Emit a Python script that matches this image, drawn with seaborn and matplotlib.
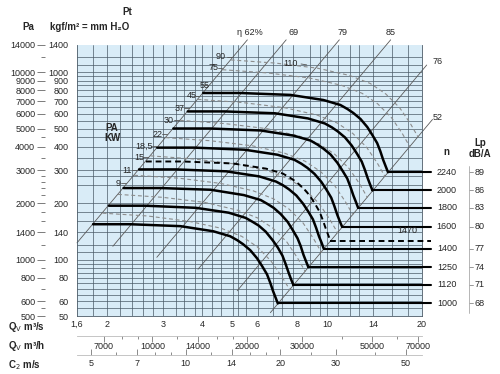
import matplotlib
matplotlib.use("Agg")
import matplotlib.pyplot as plt
import matplotlib.transforms as mtransforms
from matplotlib.ticker import NullFormatter, NullLocator
import seaborn as sns

# fan curves: Qv (m3/s) vs Pt (mm H2O), one per speed n
q_2240 = [4.03, 5.29, 7.64, 9.72, 11.00, 11.58, 12.10, 12.75, 13.40, 13.91, 14.40, 14.74, 15.05, 15.34, 15.59]
p_2240 = [775, 775, 757, 711, 669, 637, 606, 563, 510, 462, 419, 379, 341, 314, 293]
q_2000 = [3.60, 4.72, 6.82, 8.68, 9.82, 10.34, 10.80, 11.38, 11.96, 12.42, 12.86, 13.16, 13.44, 13.70, 13.92]
p_2000 = [618, 618, 604, 567, 533, 508, 483, 449, 406, 368, 334, 302, 272, 250, 234]
q_1800 = [3.24, 4.25, 6.14, 7.81, 8.84, 9.31, 9.72, 10.24, 10.76, 11.18, 11.57, 11.84, 12.10, 12.33, 12.53]
p_1800 = [501, 501, 489, 459, 432, 411, 391, 364, 329, 298, 271, 245, 220, 203, 189]
q_1600 = [2.88, 3.78, 5.46, 6.94, 7.86, 8.27, 8.64, 9.10, 9.57, 9.94, 10.29, 10.53, 10.75, 10.96, 11.14]
p_1600 = [396, 396, 386, 363, 341, 325, 309, 287, 260, 236, 214, 193, 174, 160, 150]
q_1470 = [2.65, 3.47, 5.01, 6.38, 7.22, 7.60, 7.94, 8.36, 8.79, 9.13, 9.45, 9.67, 9.88, 10.07, 10.23]
p_1470 = [334, 334, 326, 306, 288, 274, 261, 242, 220, 199, 180, 163, 147, 135, 126]
q_1400 = [2.52, 3.30, 4.77, 6.08, 6.87, 7.24, 7.56, 7.97, 8.37, 8.69, 9.00, 9.21, 9.41, 9.59, 9.74]
p_1400 = [303, 303, 296, 278, 261, 249, 237, 220, 199, 181, 164, 148, 133, 123, 114.5]
q_1250 = [2.25, 2.95, 4.26, 5.43, 6.14, 6.46, 6.75, 7.11, 7.48, 7.76, 8.04, 8.23, 8.40, 8.56, 8.70]
p_1250 = [241, 241, 236, 221, 208, 198, 189, 175, 159, 144, 130, 118, 106, 97.8, 91.3]
q_1120 = [2.02, 2.64, 3.82, 4.86, 5.50, 5.79, 6.05, 6.37, 6.70, 6.96, 7.20, 7.37, 7.53, 7.67, 7.80]
p_1120 = [194, 194, 189, 178, 167, 159, 152, 141, 127, 116, 105, 94.7, 85.3, 78.5, 73.3]
q_1000 = [1.80, 2.36, 3.41, 4.34, 4.91, 5.17, 5.40, 5.69, 5.98, 6.21, 6.43, 6.58, 6.72, 6.85, 6.96]
p_1000 = [154.5, 154.5, 150.9, 141.7, 133.3, 127.0, 120.8, 112.2, 101.6, 92.1, 83.5, 75.5, 68.0, 62.6, 58.4]

solid_curves = [(q_2240, p_2240), (q_2000, p_2000), (q_1800, p_1800), (q_1600, p_1600),
                (q_1400, p_1400), (q_1250, p_1250), (q_1120, p_1120), (q_1000, p_1000)]
speed_labels = ["2240", "2000", "1800", "1600", "1400", "1250", "1120", "1000"]
lp_labels = ["89", "86", "83", "80", "77", "74", "71", "68"]

# thin grey dashed curves
qd_a = [4.93, 6.85, 9.32, 11.78, 13.70, 15.34, 16.99, 18.36, 19.45]
pd_a = [1164, 1119, 1051, 961, 871, 766, 646, 533, 450]
qd_b = [4.64, 6.45, 8.77, 11.09, 12.90, 14.45, 16.00, 17.29, 18.32]
pd_b = [1032, 992, 932, 852, 772, 679, 572, 473, 399]
qd_c = [3.87, 5.38, 7.31, 9.25, 10.75, 12.04, 13.33, 14.41, 15.27]
pd_c = [717, 689, 647, 592, 536, 472, 398, 328, 277]
qd_d = [3.40, 4.73, 6.43, 8.13, 9.45, 10.58, 11.72, 12.66, 13.42]
pd_d = [554, 532, 500, 457, 414, 364, 307, 254, 214]
qd_e = [3.06, 4.25, 5.78, 7.31, 8.50, 9.52, 10.54, 11.39, 12.07]
pd_e = [448, 431, 405, 370, 335, 295, 249, 205, 173]
qd_f = [2.74, 3.80, 5.17, 6.54, 7.60, 8.51, 9.42, 10.18, 10.79]
pd_f = [358, 344, 323, 296, 268, 236, 199, 164, 139]
qd_g = [2.43, 3.38, 4.59, 5.81, 6.75, 7.56, 8.37, 9.05, 9.59]
pd_g = [282, 272, 255, 233, 211, 186, 157, 129, 109]
qd_h = [2.16, 3.00, 4.08, 5.16, 6.00, 6.72, 7.44, 8.04, 8.52]
pd_h = [223, 215, 202, 184, 167, 147, 124, 102, 86]
qd_i = [1.93, 2.68, 3.64, 4.60, 5.35, 5.99, 6.63, 7.17, 7.60]
pd_i = [177, 171, 160, 147, 133, 117, 98, 81, 69]
dashed_curves = [(qd_a, pd_a), (qd_b, pd_b), (qd_c, pd_c), (qd_d, pd_d), (qd_e, pd_e),
                 (qd_f, pd_f), (qd_g, pd_g), (qd_h, pd_h), (qd_i, pd_i)]

# efficiency lines (end points, Qv / Pt)
eta_q = [(1.6, 5.57), (2.08, 7.40), (2.87, 10.92), (3.88, 15.9), (5.17, 20.7), (6.59, 21.6)]
eta_p = [(122.9, 1490), (117.8, 1490), (102.9, 1490), (88.8, 1490), (68.2, 1093), (52.1, 560)]
eta_labels = ["\u03b7 62%", "69", "79", "85", "76", "52"]
eta_label_q = [5.69, 7.8, 11.2, 15.9, 22.4, 22.4]
eta_label_p = [1623, 1640, 1640, 1640, 1136, 577]

# motor power labels (kW), placed on the 62% line
kw_labels = ["90", "75", "55", "45", "37", "30", "22", "18,5", "15", "11", "9"]
kw_q = [4.57, 4.34, 4.06, 3.72, 3.40, 3.14, 2.88, 2.62, 2.52, 2.31, 2.16]
kw_p = [1208, 1054, 855, 747, 644, 556, 468, 404, 352, 300, 256]

# axes ticks
q_ticks = [1.6, 2, 3, 4, 5, 6, 8, 10, 14, 20]
q_tick_labels = ["1,6", "2", "3", "4", "5", "6", "8", "10", "14", "20"]
p_ticks = [50, 60, 80, 100, 140, 200, 300, 400, 500, 600, 700, 800, 900, 1000, 1400]
pa_ticks = [500, 600, 800, 1000, 1400, 2000, 3000, 4000, 5000, 6000, 7000, 8000, 9000, 10000, 14000]
pa_minor = [550, 700, 900, 1200, 1600, 1800, 2200, 2400, 2600, 2800, 3500, 4500, 12000]
qh_ticks = [7000, 10000, 14000, 20000, 30000, 50000, 70000]
qh_minor = [8000, 9000, 12000, 16000, 18000, 25000, 40000, 60000]
c2_ticks = [5, 7, 10, 14, 20, 30, 50]
c2_minor = [6, 8, 9, 12, 16, 18, 25, 40, 60]

grid_q = [1.8, 2, 2.2, 2.4, 2.6, 2.8, 3, 3.3, 3.5, 3.8, 4, 4.3, 4.6, 5, 5.2, 5.5, 6, 6.7,
          7.2, 7.8, 8.8, 9.5, 10, 10.8, 11.8, 12.6, 14, 16, 18]
grid_p = [55, 60, 65, 70, 75, 80, 85, 90, 95, 100, 110, 120, 140, 160, 180, 200, 250, 280, 300,
          350, 400, 450, 500, 550, 600, 650, 700, 750, 800, 850, 900, 950, 1000, 1100, 1200]

sns.set_style("white")
plt.rcParams["font.family"] = ["Liberation Sans", "DejaVu Sans"]

fig = plt.figure(figsize=(5.0, 3.74), dpi=100)
ax = fig.add_axes([0.154, 0.155, 0.690, 0.725])
ax.set_xscale("log")
ax.set_yscale("log")
ax.set_facecolor("#d9ecf7")

grid_color = "#4a5a66"
for g in grid_q:
    ax.axvline(g, color=grid_color, lw=0.5, zorder=1)
for g in grid_p:
    ax.axhline(g, color=grid_color, lw=0.5, zorder=1)

for qs, ps in zip(eta_q, eta_p):
    ax.plot(qs, ps, color="#5a5a5a", lw=0.6, zorder=2, clip_on=False)

for qs, ps in dashed_curves:
    sns.lineplot(x=qs, y=ps, ax=ax, color="#8c8c8c", lw=0.8, linestyle=(0, (3.5, 2.5)),
                 sort=False, estimator=None, legend=False, zorder=3)

trans = mtransforms.blended_transform_factory(ax.transAxes, ax.transData)
for (qs, ps), n, lp in zip(solid_curves, speed_labels, lp_labels):
    sns.lineplot(x=qs, y=ps, ax=ax, color="black", lw=1.8, sort=False,
                 estimator=None, legend=False, zorder=4)
    ax.plot([qs[-1], 21.3], [ps[-1], ps[-1]], color="black", lw=1.5, zorder=4, clip_on=False)
    ax.text(1.072, ps[-1], n, transform=trans, ha="center", va="center", fontsize=6.5)
    ax.text(1.168, ps[-1], lp, transform=trans, ha="center", va="center", fontsize=6.5)
    ax.plot([1.136, 1.148], [ps[-1], ps[-1]], transform=trans, color="#888888", lw=0.6, clip_on=False)
ax.plot([1.136, 1.136], [p_2240[-1] * 1.08, 52], transform=trans, color="#aaaaaa", lw=0.6, clip_on=False)

sns.lineplot(x=q_1470, y=p_1470, ax=ax, color="black", lw=1.4, linestyle=(0, (3, 2)),
             sort=False, estimator=None, legend=False, zorder=4)
ax.plot([q_1470[-1], 21.3], [p_1470[-1], p_1470[-1]], color="black", lw=1.4,
        linestyle=(0, (3, 2)), zorder=4, clip_on=False)
ax.text(18.0, 134.8, "1470", ha="center", va="bottom", fontsize=6.5, zorder=5)

for s, x, y in zip(eta_labels, eta_label_q, eta_label_p):
    ax.text(x, y, s, ha="center", va="center", fontsize=6.5)
for s, x, y in zip(kw_labels, kw_q, kw_p):
    ax.text(x, y, s, ha="center", va="center", fontsize=6.5, zorder=5)
    q_line = (y / 48) ** 0.5
    ax.plot([q_line / 1.045, q_line / 1.01], [y, y], color="#555555", lw=0.6, zorder=5)
ax.text(7.63, 1107, "110", ha="center", va="center", fontsize=6.5, zorder=5)
ax.plot([8.25, 8.6], [1107, 1095], color="#555555", lw=0.6, zorder=5)
ax.text(2.07, 474, "PA\nKW", ha="center", va="center", fontsize=7, fontweight="bold",
        linespacing=1.0)

ax.set_xlim(1.6, 20)
ax.set_ylim(50, 1400)
ax.set_xlabel("")
ax.set_ylabel("")
ax.set_xticks(q_ticks, labels=q_tick_labels)
ax.set_yticks(p_ticks, labels=[str(v) for v in p_ticks])
ax.xaxis.set_minor_locator(NullLocator())
ax.yaxis.set_minor_locator(NullLocator())
ax.tick_params(axis="x", length=0, labelsize=6.5, pad=3)
ax.tick_params(axis="y", length=0, labelsize=6.5, pad=6)
for side in ["left", "bottom", "right"]:
    ax.spines[side].set_color(grid_color)
    ax.spines[side].set_linewidth(0.6)
ax.spines["top"].set_visible(False)

pa_ax = ax.secondary_yaxis(-0.093, functions=(lambda p: p * 10, lambda p: p / 10))
pa_ax.set_yticks(pa_ticks, labels=[str(v) for v in pa_ticks])
pa_ax.set_yticks(pa_minor, minor=True)
pa_ax.yaxis.set_minor_formatter(NullFormatter())
pa_ax.tick_params(which="major", length=6, width=0.6, color="#666666", labelsize=6.5, pad=1)
pa_ax.tick_params(which="minor", length=3, width=0.6, color="#666666")
pa_ax.spines["left"].set_visible(False)

qh_ax = ax.secondary_xaxis(-0.072, functions=(lambda q: q * 3600, lambda h: h / 3600))
qh_ax.set_xticks(qh_ticks, labels=[str(v) for v in qh_ticks])
qh_ax.set_xticks(qh_minor, minor=True)
qh_ax.xaxis.set_minor_formatter(NullFormatter())
qh_ax.tick_params(which="major", length=4, width=0.6, color="#777777", labelsize=6.5, pad=1)
qh_ax.tick_params(which="minor", length=2, width=0.6, color="#777777")
qh_ax.spines["bottom"].set_color("#bbbbbb")
qh_ax.spines["bottom"].set_linewidth(0.6)

c2_ax = ax.secondary_xaxis(-0.144, functions=(lambda q: q * 2.82, lambda c: c / 2.82))
c2_ax.set_xticks(c2_ticks, labels=[str(v) for v in c2_ticks])
c2_ax.set_xticks(c2_minor, minor=True)
c2_ax.xaxis.set_minor_formatter(NullFormatter())
c2_ax.tick_params(which="major", direction="in", length=4, width=0.6, color="#777777",
                  labelsize=6.5, pad=3)
c2_ax.tick_params(which="minor", direction="in", length=2, width=0.6, color="#777777")
c2_ax.spines["bottom"].set_color("#bbbbbb")
c2_ax.spines["bottom"].set_linewidth(0.6)

hdr = dict(fontsize=7, fontweight="bold")
fig.text(0.254, 0.968, "Pt", ha="center", va="center", **hdr)
fig.text(0.056, 0.928, "Pa", ha="center", va="center", **hdr)
fig.text(0.180, 0.928, "kgf/m\u00b2 = mm H\u2082O", ha="center", va="center", **hdr)
fig.text(0.016, 1 - 327 / 374, "Q$_\\mathrm{V}$ m\u00b3/s", ha="left", va="center", **hdr)
fig.text(0.016, 1 - 346 / 374, "Q$_\\mathrm{V}$ m\u00b3/h", ha="left", va="center", **hdr)
fig.text(0.016, 1 - 365 / 374, "C$_2$ m/s", ha="left", va="center", **hdr)
fig.text(0.892, 1 - 152 / 374, "n", ha="center", va="center", **hdr)
fig.text(0.960, 1 - 143 / 374, "Lp", ha="center", va="center", **hdr)
fig.text(0.960, 1 - 154 / 374, "dB/A", ha="center", va="center", **hdr)

fig.savefig("out.png", dpi=100)
plt.close(fig)
